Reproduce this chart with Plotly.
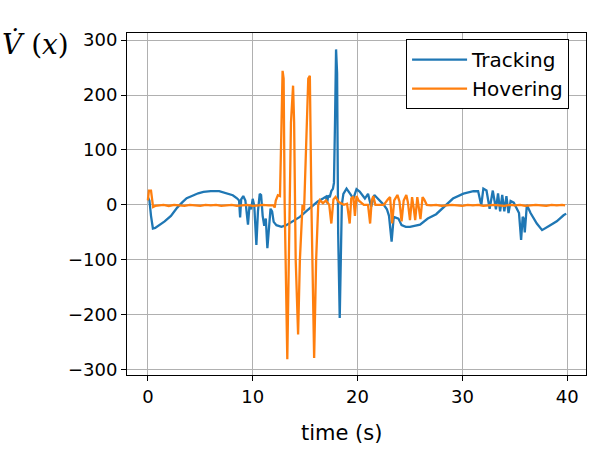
import plotly.graph_objects as go

# Tracking series (time in s, Vdot values)
track_t = [0.0, 0.15, 0.3, 0.48, 0.7, 1.1, 1.6, 2.2, 2.8, 3.3, 3.7, 4.2, 4.8, 5.3, 6.0, 6.8, 7.4, 8.1, 8.5, 8.7,
           8.8, 8.9, 9.1, 9.3, 9.55, 9.7, 9.85, 10.0, 10.15, 10.35, 10.5, 10.67, 10.8, 10.95, 11.1, 11.25, 11.4,
           11.55, 11.7, 11.85, 12.0, 12.26, 12.74, 13.2, 13.8, 14.5, 15.2, 15.76, 16.2, 16.7, 17.0, 17.1, 17.2,
           17.35, 17.5, 17.65, 17.75, 17.85, 17.95, 18.05, 18.15, 18.3, 18.4, 18.5, 18.65, 18.95, 19.3, 19.6,
           19.9, 20.2, 20.7, 21.0, 21.3, 21.6, 21.9, 22.2, 22.5, 22.8, 23.0, 23.25, 23.45, 23.9, 24.2, 24.6, 25.0,
           25.96, 26.7, 27.5, 28.3, 29.1, 30.1, 31.05, 31.5, 31.8, 32.0, 32.3, 32.6, 32.9, 33.2, 33.4, 33.6, 33.8,
           34.0, 34.2, 34.4, 34.6, 34.9, 35.4, 35.6, 35.75, 35.85, 35.95, 36.15, 36.5, 37.1, 37.6, 38.3, 39.0,
           39.65, 39.9]
track_v = [14, 8, -20, -43, -42, -37, -30, -20, -5, 5, 12, 16, 21, 23.5, 25, 25, 22, 17.5, 12, 8,
           -23, 10, 16, 8, -36, 0, -8, 11, -2, -73, -12, 20, 18, -20, -38, -25, -79,
           -35, -7, -12, -31, -37, -40, -37, -30, -22, -10, -1, 6, 11.5, 15, 3, 17,
           14, 25, 29, 40, 150, 283, 240, -50, -206, -100, 0, 20, 29.6, 20, 11.5,
           28.4, 24, 11.5, 20, -3.6, 18, 12, 6, 0, -8, -20, -67, -22, -25, -37, -40, -40,
           -36, -25, -17, -3, 11.5, 20.5, 24.8, 25, -1, 29.6, 26, -7, 26, -8, 21, -12, 18,
           -12, 16, -15, 7, 4, -15, -64, -22, -25, -50, 0, -15, -34, -46, -38, -30,
           -19, -16]

# Hovering series
hover_t = [0.0, 0.1, 0.3, 0.5, 0.7, 1.0, 1.5, 2.0, 2.5, 3.0, 3.5, 4.0, 4.5, 5.0, 5.5, 6.0, 6.5, 7.0, 7.5, 8.0,
           8.5, 9.0, 9.5, 10.0, 10.5, 11.0, 11.5, 12.0, 12.1, 12.2, 12.4, 12.6, 12.75, 12.85, 12.95, 13.05, 13.3,
           13.45, 13.65, 13.85, 13.95, 14.1, 14.33, 14.5, 14.75, 14.9, 15.1, 15.3, 15.45, 15.6, 15.86, 16.05,
           16.25, 16.4, 16.7, 17.0, 17.3, 17.5, 17.7, 17.9, 18.2, 18.7, 19.0, 19.25, 19.4, 19.6, 19.75, 19.9,
           20.1, 20.6, 21.0, 21.2, 21.35, 21.5, 21.7, 22.2, 22.5, 22.9, 23.1, 23.3, 23.5, 23.8, 24.0, 24.2, 24.4,
           24.65, 24.8, 25.0, 25.2, 25.35, 25.5, 25.7, 25.85, 26.0, 26.2, 26.35, 26.6, 27.0, 27.5, 28.0, 28.5,
           29.0, 29.5, 30.0, 30.5, 31.0, 31.5, 32.0, 32.5, 33.0, 33.5, 34.0, 34.5, 35.0, 35.5, 36.0, 36.5, 37.0,
           37.5, 38.0, 38.5, 39.0, 39.5, 39.8]
hover_v = [8, 26, 26, -4, -2, -1, 0, -2, 0, -1, -2, 0, -1, -2, 0, -1, 0, -2, -1, 0,
           -2, -1, 0, -2, -1, 0, -1, -1, -5, 8, 17.5, 16, 150, 244, 230, 0, -281,
           -100, 150, 217, 150, -100, -236, -100, 0, -10, 100, 230, 235, 0, -279, -100,
           0, 8.5, 3, 8, 0, -34, 10, 14.5, 5, 0, 2, -34, 12, 15, -20, 16,
           8, 0, 0, -34, 8, 16, 0, 0, 0, 10, 14, -34, 8, 18, 6, -30, 8,
           18, 5, -28, 14, -5, -28, 14, -10, -26, 14, 10, 0, -1, 0, -2, -1,
           0, -1, -2, 0, -1, 0, -2, -1, 0, -1, -2, 0, -1, 0, -2, -1, 0,
           -1, -2, 0, -1, 0, -1]

x_ticks = [0, 10, 20, 30, 40]
y_ticks = [-300, -200, -100, 0, 100, 200, 300]
y_tick_text = ["\u2212300", "\u2212200", "\u2212100", "0", "100", "200", "300"]

fig = go.Figure()
fig.add_trace(go.Scatter(x=track_t, y=track_v, mode="lines", name="Tracking",
                         line=dict(color="#1f77b4", width=2.3)))
fig.add_trace(go.Scatter(x=hover_t, y=hover_v, mode="lines", name="Hovering",
                         line=dict(color="#ff7f0e", width=2.3)))

font_family = "DejaVu Sans"
axis_common = dict(showgrid=True, gridcolor="#b0b0b0", gridwidth=1, showline=True, linecolor="black",
                   linewidth=1, mirror=True, ticks="outside", ticklen=5, tickwidth=1, tickcolor="black",
                   zeroline=False, tickfont=dict(family=font_family, size=18, color="black"))

fig.update_layout(
    width=603, height=453,
    margin=dict(l=127, r=17, t=33, b=78),
    paper_bgcolor="white", plot_bgcolor="white",
    xaxis=dict(range=[-1.99, 41.79], tickvals=x_ticks, **axis_common),
    yaxis=dict(range=[-309.8, 312.9], tickvals=y_ticks, ticktext=y_tick_text, **axis_common),
    legend=dict(x=0.608, y=0.982, xanchor="left", yanchor="top", bordercolor="black", borderwidth=1,
                bgcolor="white", font=dict(family=font_family, size=20, color="black"),
                itemwidth=55),
    showlegend=True,
    annotations=[
        dict(text="time (s)", xref="paper", yref="paper", x=0.468, y=-0.17, xanchor="center",
             yanchor="middle", showarrow=False, font=dict(family=font_family, size=21, color="black")),
        dict(text="<i>V\u0307</i> (<i>x</i>)", xref="paper", yref="paper", x=-0.277, y=0.965,
             xanchor="left", yanchor="middle", showarrow=False,
             font=dict(family="DejaVu Serif", size=28, color="black")),
    ],
)

fig.write_html("out.html")
